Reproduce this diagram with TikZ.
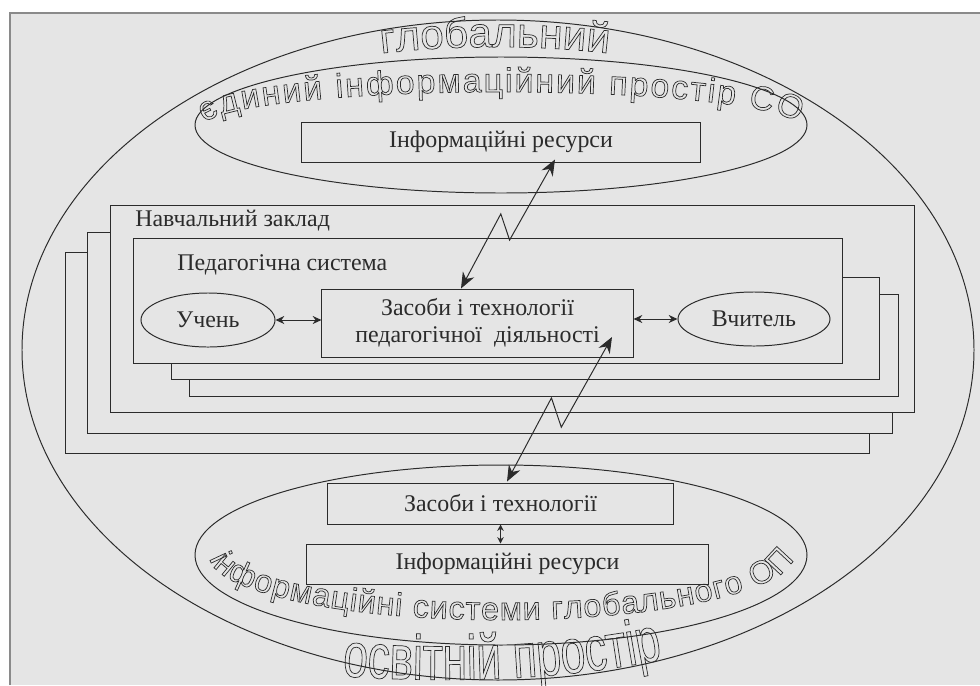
\documentclass[tikz,border=0pt]{standalone}
\usepackage{fontspec}
\setmainfont{Liberation Serif}
\newfontfamily\artfont{Liberation Sans}
\newfontfamily\artnarrow[FakeStretch=0.7]{Liberation Sans}
\usetikzlibrary{arrows.meta,calc,shapes.geometric,decorations.text}
\definecolor{paper}{HTML}{E5E5E5}
\definecolor{ink}{HTML}{2B2B2B}
\definecolor{frame}{HTML}{8A8A8A}
% контурні літери
\newcommand\hollowtext{\special{pdf:literal direct 1 Tr 0.5 w}}

\begin{document}
\begin{tikzpicture}[%
    x=0.025cm, y=-0.025cm,
    every node/.style={text=ink},
    box/.style={draw=ink, fill=paper, line width=0.7pt, inner sep=0pt},
    sheet/.style={box, anchor=north west},
    oval/.style={box, ellipse},
    txt/.style={font=\fontsize{17}{19}\selectfont},
    link/.style={draw=ink, line width=0.7pt,
        {Stealth[length=2.2mm,width=2mm]}-{Stealth[length=2.2mm,width=2mm]}},
    lightning/.style={draw=ink, line width=0.7pt,
        {Stealth[length=4mm,width=3.2mm]}-{Stealth[length=4mm,width=3.2mm]},
        to path={-- ($(\tikztostart)!0.53!8:(\tikztotarget)$)
                 -- ($(\tikztostart)!0.43!-9:(\tikztotarget)$)
                 -- (\tikztotarget)}},
    wordart/.style={decorate,
        decoration={text along path, text color=ink, #1}},
]
\useasboundingbox (0,0) rectangle (980,685);
\fill[white] (0,0) rectangle (980,685);
\fill[paper] (10,13) rectangle (980,685);
\draw[frame, line width=1.6pt] (10,685) -- (10,13) -- (980,13);

% еліпси
\draw[ink, line width=0.7pt] (498,350) ellipse [x radius=476, y radius=330];
\draw[ink, line width=0.7pt] (501,125) ellipse [x radius=306, y radius=68];
\draw[ink, line width=0.7pt] (501,555) ellipse [x radius=306, y radius=90];

% навчальний заклад
\node[sheet, minimum width=20.1cm, minimum height=5.025cm] (nz3) at (65,252) {};
\node[sheet, minimum width=20.125cm, minimum height=5.025cm] (nz2) at (87,232) {};
\node[sheet, minimum width=20.1cm, minimum height=5.175cm] (nz) at (110,205) {};
\node[txt, inner sep=0pt, anchor=base west] (nzlabel)
    at ($(nz.north west)+(25,21)$) {Навчальний заклад};

% педагогічна система
\node[sheet, minimum width=17.725cm, minimum height=2.55cm] (ps3) at (189,294) {};
\node[sheet, minimum width=17.7cm, minimum height=2.55cm] (ps2) at (171,277) {};
\node[sheet, minimum width=17.725cm, minimum height=3.125cm] (ps) at (133,238) {};
\node[txt, inner sep=0pt, anchor=base west] (pslabel)
    at ($(ps.north west)+(44,32)$) {Педагогічна система};

\node[box, txt, align=center, minimum width=7.775cm, minimum height=1.7cm]
    (tools) at (477.5,323) {Засоби і технології\\педагогічної\ \ діяльності};
\node[oval, txt, minimum width=3.35cm, minimum height=1.35cm] (uchen) at (208,320) {Учень};
\node[oval, txt, minimum width=3.8cm, minimum height=1.35cm] (vchytel) at (754,319) {Вчитель};

\node[box, txt, minimum width=9.95cm, minimum height=1cm] (restop) at (501,142) {Інформаційні ресурси};
\node[box, txt, minimum width=8.625cm, minimum height=1.025cm] (toolsbot) at (500.5,503.5) {Засоби і технології};
\node[box, txt, minimum width=10.025cm, minimum height=1cm] (resbot) at (507.5,564) {Інформаційні ресурси};

% зв'язки
\draw[link] (uchen.east) -- (uchen.east -| tools.west);
\draw[link] (tools.east |- vchytel.west) -- (vchytel.west);
\draw[draw=ink, line width=0.7pt,
    {Stealth[length=1.6mm,width=1.6mm]}-{Stealth[length=1.6mm,width=1.6mm]}]
    (toolsbot.south) -- (toolsbot.south |- resbot.north);

\coordinate (upA) at ($(tools.north)+(-16.5,0)$);
\coordinate (upB) at ($(restop.south)+(54,-3)$);
\draw[lightning] (upA) to (upB);
\coordinate (dnA) at ($(toolsbot.north)+(6.5,-1)$);
\coordinate (dnB) at ($(tools.center)+(134.5,14)$);
\draw[lightning] (dnA) to (dnB);

% написи по дузі
\path[wordart={text align=center,
    text={|\artfont\fontsize{30}{30}\selectfont\hollowtext|глобальний}}]
    ($(495,150)+(245:330 and 103)$) arc[start angle=245, end angle=295, x radius=330, y radius=103];
\path[wordart={text align=fit to path,
    text={|\artfont\fontsize{24}{24}\selectfont\hollowtext|єдиний інформаційний простір СО}}]
    ($(501,127)+(186:298 and 35)$) arc[start angle=186, end angle=354, x radius=298, y radius=35];
\path[wordart={text align=fit to path,
    text={|\artfont\fontsize{23}{23}\selectfont\hollowtext|інформаційні системи глобального ОП}}]
    ($(501,555)+(177:292 and 65)$) arc[start angle=177, end angle=3, x radius=292, y radius=65];
\path[wordart={text align=center,
    text={|\artnarrow\fontsize{45}{45}\selectfont\hollowtext|освітній простір}}]
    (325,675) .. controls (440,684) and (560,682) .. (680,656);

\end{tikzpicture}
\end{document}
